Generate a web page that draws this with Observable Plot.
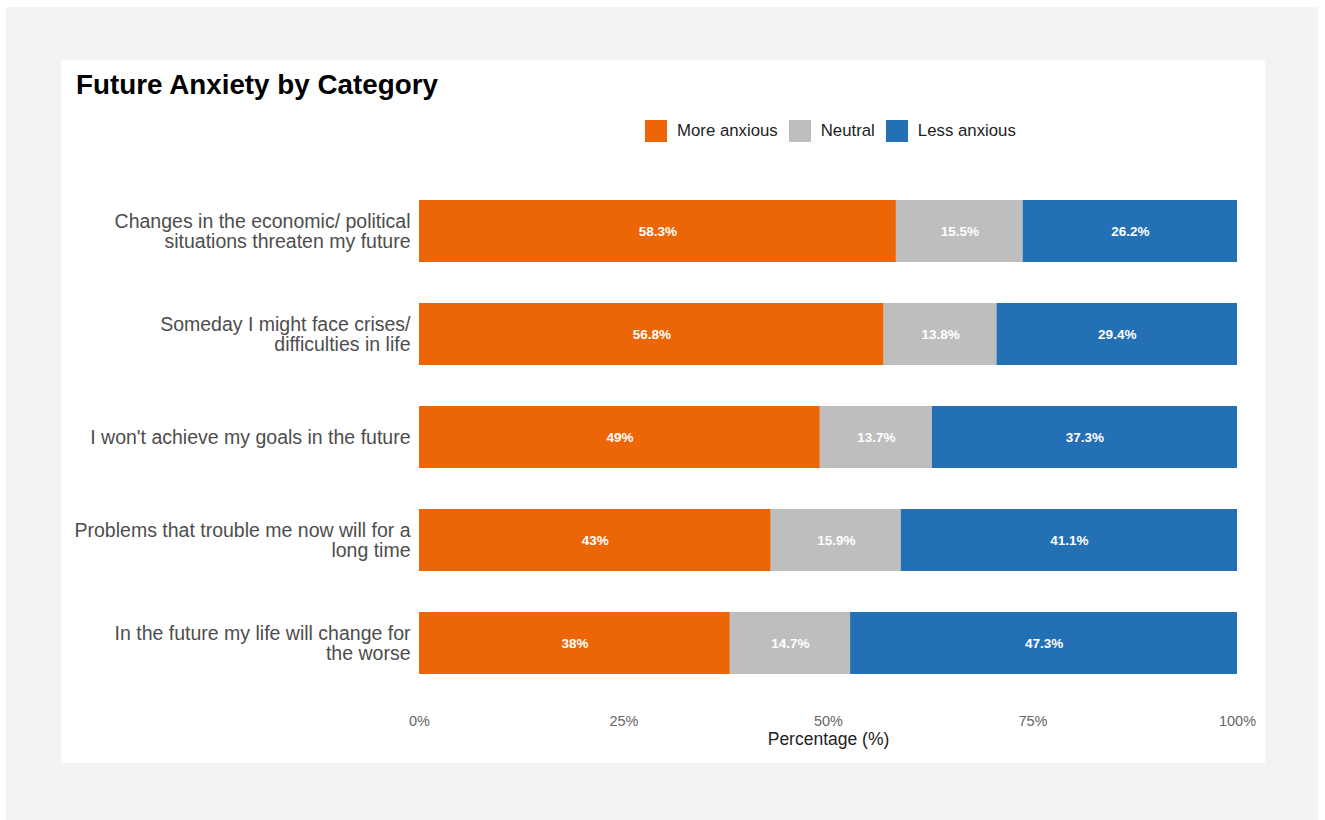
<!DOCTYPE html>
<html>
<head>
<meta charset="utf-8">
<script src="https://cdn.jsdelivr.net/npm/d3@7"></script>
<script src="https://cdn.jsdelivr.net/npm/@observablehq/plot@0.6"></script>
<style>
  html, body { margin: 0; padding: 0; background: #ffffff; }
  body { width: 1325px; height: 820px; position: relative; overflow: hidden; font-family: "Liberation Sans", Arial, Helvetica, sans-serif; }
  #outer { position: absolute; left: 6px; top: 7px; width: 1312px; height: 813px; background: #f2f3f2; }
  #card { position: absolute; left: 61px; top: 60px; width: 1204px; height: 703px; background: #ffffff; }
  #title { position: absolute; left: 76px; top: 70.5px; font-size: 27.8px; line-height: 28px; font-weight: bold; color: #000; white-space: nowrap; }
  #legend { position: absolute; left: 645px; top: 120px; height: 22px; display: flex; align-items: center; font-size: 16.8px; color: #222; white-space: nowrap; }
  #legend .sw { width: 22px; height: 22px; margin-right: 10px; }
  #legend .lb { margin-right: 11px; line-height: 22px; }
  #chart { position: absolute; left: 61px; top: 150px; }
</style>
</head>
<body>
<div id="outer"></div>
<div id="card"></div>
<div id="title">Future Anxiety by Category</div>
<div id="legend"></div>
<div id="chart"></div>
<script>
// ---- Data ----
const categories = [
  "Changes in the economic/ political situations threaten my future",
  "Someday I might face crises/ difficulties in life",
  "I won't achieve my goals in the future",
  "Problems that trouble me now will for a long time",
  "In the future my life will change for the worse"
];
const categoryLabels = [
  "Changes in the economic/ political\nsituations threaten my future",
  "Someday I might face crises/\ndifficulties in life",
  "I won't achieve my goals in the future",
  "Problems that trouble me now will for a\nlong time",
  "In the future my life will change for\nthe worse"
];
const groups = ["More anxious", "Neutral", "Less anxious"];
const groupColors = ["#ec6608", "#bebebe", "#2470b4"];
const moreAnxious = [58.3, 56.8, 49, 43, 38];
const neutral = [15.5, 13.8, 13.7, 15.9, 14.7];
const lessAnxious = [26.2, 29.4, 37.3, 41.1, 47.3];
const xTicks = [0, 25, 50, 75, 100];
const xLabel = "Percentage (%)";

// ---- Build rows ----
const seriesValues = [moreAnxious, neutral, lessAnxious];
const rows = [];
categories.forEach((c, i) => {
  groups.forEach((g, j) => rows.push({category: c, group: g, value: seriesValues[j][i]}));
});
const labelOf = new Map(categories.map((c, i) => [c, categoryLabels[i]]));

// ---- Legend ----
const legend = document.getElementById("legend");
groups.forEach((g, i) => {
  const sw = document.createElement("div");
  sw.className = "sw";
  sw.style.background = groupColors[i];
  const lb = document.createElement("div");
  lb.className = "lb";
  lb.textContent = g;
  legend.appendChild(sw);
  legend.appendChild(lb);
});

// ---- Chart ----
const chart = Plot.plot({
  width: 1204,
  height: 605,
  marginLeft: 358,
  marginRight: 28,
  marginTop: 8.8,
  marginBottom: 39.8,
  style: {fontFamily: '"Liberation Sans", Arial, Helvetica, sans-serif', background: "transparent", overflow: "visible"},
  x: {domain: [0, 100], label: null},
  y: {domain: categories, padding: 0.4, label: null},
  color: {domain: groups, range: groupColors},
  marks: [
    Plot.barX(rows, Plot.stackX({x: "value", y: "category", fill: "group", z: "group"})),
    Plot.text(rows, Plot.stackX({
      x: "value", y: "category", z: "group",
      text: d => d.value + "%",
      fill: "white", fontWeight: "bold", fontSize: 13.5
    })),
    Plot.axisX({ticks: xTicks, tickFormat: d => d + "%", tickSize: 0, tickPadding: 0, fontSize: 14.5, fill: "#666", label: null}),
    Plot.axisY({tickSize: 0, tickPadding: 9, fontSize: 19.5, lineHeight: 1.03, fill: "#4d4d4d", tickFormat: d => labelOf.get(d), label: null}),
    Plot.text([xLabel], {frameAnchor: "bottom", dy: 29, text: d => d, fontSize: 17.5, fill: "#222"})
  ]
});
document.getElementById("chart").appendChild(chart);
</script>
</body>
</html>
